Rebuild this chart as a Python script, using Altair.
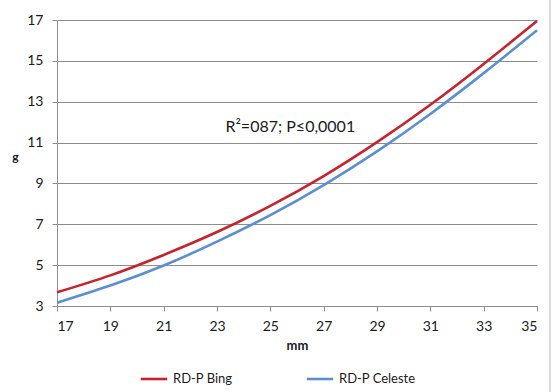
import altair as alt
import pandas as pd

# Fruit diameter (mm) vs. fruit weight (g) regression curves
mm = [17, 19, 21, 23, 25, 27, 29, 31, 33, 35]
bing = [3.67, 4.5, 5.5, 6.62, 7.9, 9.36, 11.02, 12.85, 14.85, 16.95]
celeste = [3.16, 4.0, 4.98, 6.15, 7.45, 8.92, 10.57, 12.4, 14.4, 16.5]
series_names = ["RD-P Bing", "RD-P Celeste"]
series_colors = ["#C8232C", "#5A8FD4"]
y_ticks = [3, 5, 7, 9, 11, 13, 15, 17]
x_ticks = [17, 19, 21, 23, 25, 27, 29, 31, 33, 35]
note = "R²=087;  P≤0,0001"
note_pos = (25.75, 11.75)

rows = []
for i, x in enumerate(mm):
    rows.append({"mm": x, "g": bing[i], "serie": series_names[0]})
    rows.append({"mm": x, "g": celeste[i], "serie": series_names[1]})
df = pd.DataFrame(rows)

FONT = "Lato"
GRID = "#8C8C8C"

lines = alt.Chart(df).mark_line(strokeWidth=2.6, interpolate="natural").encode(
    x=alt.X("mm:Q", scale=alt.Scale(domain=[17, 35], nice=False, zero=False),
            axis=alt.Axis(values=x_ticks, title="mm", grid=False, tickSize=5,
                          labelFontSize=14, labelPadding=8, titleFontSize=13,
                          titleFontWeight="bold", titlePadding=6,
                          domainColor=GRID, tickColor=GRID, labelColor="#1a1a1a",
                          titleColor="#1a1a1a")),
    y=alt.Y("g:Q", scale=alt.Scale(domain=[3, 17], nice=False, zero=False),
            axis=alt.Axis(values=y_ticks, title="g", grid=True, gridColor=GRID,
                          gridWidth=1, tickSize=5, labelFontSize=14, labelPadding=9,
                          titleFontSize=12, titleFontWeight="bold", titleAngle=0,
                          titleX=-42, titleY=143, titleAlign="center",
                          domainColor=GRID, tickColor=GRID, labelColor="#1a1a1a",
                          titleColor="#1a1a1a")),
    color=alt.Color("serie:N",
                    scale=alt.Scale(domain=series_names, range=series_colors),
                    legend=alt.Legend(title=None, orient="none", direction="horizontal",
                                      legendX=82, legendY=344, symbolType="stroke",
                                      symbolStrokeWidth=2.6, symbolSize=700,
                                      labelFontSize=13, columnPadding=68,
                                      labelColor="#1a1a1a", labelFont=FONT)),
)

label = alt.Chart(pd.DataFrame({"mm": [note_pos[0]], "g": [note_pos[1]], "t": [note]})).mark_text(
    fontSize=16, font=FONT, color="#1a1a1a"
).encode(x="mm:Q", y="g:Q", text="t:N")

border = alt.Chart(pd.DataFrame({"a": [0]})).mark_rule(color="#D0D0D0", strokeWidth=1.5).encode(
    x=alt.value(493), y=alt.value(-20), y2=alt.value(372)
)

chart = alt.layer(lines, label, border).properties(
    width=480, height=286,
    autosize=alt.AutoSizeParams(type="none"),
    padding={"left": 57, "top": 20, "right": 19, "bottom": 86},
).configure_view(stroke=None).configure_axis(labelFont=FONT, titleFont=FONT)

chart.save("out.html", embed_options={"renderer": "svg", "actions": False})
